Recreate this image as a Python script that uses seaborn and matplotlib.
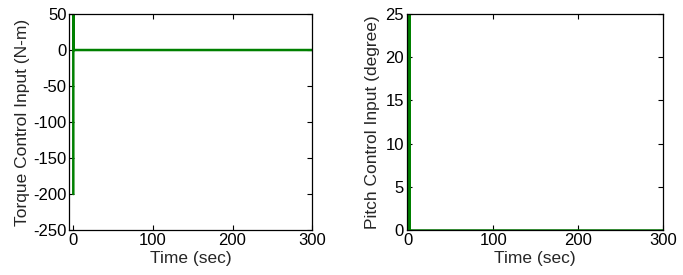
import numpy as np
import pandas as pd
import matplotlib
matplotlib.use("Agg")
import matplotlib.pyplot as plt
import seaborn as sns

# Data
torque_time = [0.0, 0.0, 0.4, 300.0]
torque_values = [-200.0, 60.0, 0.0, 0.0]
pitch_time = [0.3, 0.3, 0.9, 0.9, 300.0]
pitch_values = [0.0, 26.0, 26.0, 0.0, 0.0]

torque_yticks = [-250, -200, -150, -100, -50, 0, 50]
pitch_yticks = [0, 5, 10, 15, 20, 25]
time_ticks = [0, 100, 200, 300]

sns.set_style("ticks")
plt.rcParams['font.family'] = ['Liberation Sans', 'DejaVu Sans']
plt.rcParams['font.size'] = 12
plt.rcParams['axes.unicode_minus'] = False
plt.rcParams['xtick.direction'] = 'in'
plt.rcParams['ytick.direction'] = 'in'

fig = plt.figure(figsize=(6.83, 2.75), dpi=100)
ax1 = fig.add_axes([0.1015, 0.1636, 0.3555, 0.7854])
ax2 = fig.add_axes([0.5955, 0.1636, 0.3755, 0.7854])

green = (0.0, 0.5, 0.0)

df1 = pd.DataFrame({"t": torque_time, "u": torque_values})
df2 = pd.DataFrame({"t": pitch_time, "u": pitch_values})

sns.lineplot(data=df1, x="t", y="u", ax=ax1, color=green, linewidth=1.8,
             sort=False, estimator=None)
sns.lineplot(data=df2, x="t", y="u", ax=ax2, color=green, linewidth=1.8,
             sort=False, estimator=None)

ax1.set_xlim(-5, 300)
ax1.set_ylim(-250, 50)
ax1.set_yticks(torque_yticks)
ax1.set_ylabel("Torque Control Input (N-m)", fontsize=12.5, labelpad=2)

ax2.set_xlim(-2, 300)
ax2.set_ylim(0, 25)
ax2.set_yticks(pitch_yticks)
ax2.set_ylabel("Pitch Control Input (degree)", fontsize=12.5, labelpad=4)

for ax in (ax1, ax2):
    ax.set_xticks(time_ticks)
    ax.set_xlabel("Time (sec)", fontsize=12.5, labelpad=2)
    ax.tick_params(axis='both', which='both', direction='in', top=True, right=True,
                   length=3.5, width=0.8, labelsize=12, pad=2, colors='black')
    for s in ax.spines.values():
        s.set_visible(True)
        s.set_color('black')
        s.set_linewidth(0.9)

fig.savefig("out.png", dpi=100)
